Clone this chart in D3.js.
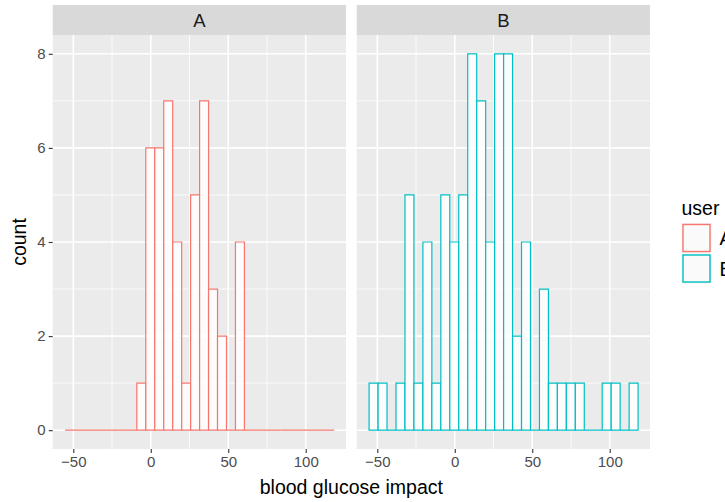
<!DOCTYPE html>
<html lang="en">
  <head>
    <meta charset="utf-8">
    <title>blood glucose impact</title>
    <script src="https://d3js.org/d3.v7.min.js"></script>
    <style>
      body { margin: 0; background: #fff; }
      svg text { font-family: "Liberation Sans", Arial, sans-serif; }
    </style>
  </head>
  <body>
    <div id="main"></div>
    <script>
      // Data (30 bins)
      const users = ['A', 'B'];
      const colors = ['#F8766D', '#00BFC4'];
      const binStart = -55.3;
      const binWidth = 5.787;
      const countsA = [0, 0, 0, 0, 0, 0, 0, 0, 1, 6, 6, 7, 4, 1, 5, 7, 3, 2, 0, 4, 0, 0, 0, 0, 0, 0, 0, 0, 0, 0];
      const countsB = [1, 1, 0, 1, 5, 1, 4, 1, 5, 4, 5, 8, 7, 4, 8, 8, 2, 4, 0, 3, 1, 1, 1, 1, 0, 0, 1, 1, 0, 1];
      const xTicks = [-50, 0, 50, 100];
      const xMinor = [-25, 25, 75];
      const yTicks = [0, 2, 4, 6, 8];
      const yMinor = [1, 3, 5, 7];

      const W = 725, H = 502;
      const panelTop = 35, panelBottom = 449, stripTop = 5;
      const panels = [{ left: 52.7, right: 346 }, { left: 356.7, right: 650 }];

      const svg = d3.select('#main').append('svg')
        .attr('width', W).attr('height', H);

      const y = d3.scaleLinear().domain([-0.4, 8.4]).range([panelBottom, panelTop]);

      // outline of one bin, drawn as a path so that empty bins still show a line
      function binPath(x, i, d) {
        const p = d3.path();
        const x0 = x(binStart + i * binWidth), x1 = x(binStart + (i + 1) * binWidth);
        p.moveTo(x0, y(0));
        p.lineTo(x0, y(d));
        p.lineTo(x1, y(d));
        p.lineTo(x1, y(0));
        p.closePath();
        return p.toString();
      }

      [countsA, countsB].forEach((counts, p) => {
        const pan = panels[p];
        const x = d3.scaleLinear().domain([-63.3, 126.0]).range([pan.left, pan.right]);
        const g = svg.append('g');

        // panel background + strip
        g.append('rect')
          .attr('x', pan.left).attr('y', panelTop)
          .attr('width', pan.right - pan.left).attr('height', panelBottom - panelTop)
          .attr('fill', '#EBEBEB');
        g.append('rect')
          .attr('x', pan.left).attr('y', stripTop)
          .attr('width', pan.right - pan.left).attr('height', panelTop - stripTop)
          .attr('fill', '#D9D9D9');
        g.append('text')
          .attr('x', (pan.left + pan.right) / 2).attr('y', (stripTop + panelTop) / 2 + 6.5)
          .attr('text-anchor', 'middle').attr('font-size', 18.5).attr('fill', '#1A1A1A')
          .text(users[p]);

        // grid
        g.selectAll('.gxm').data(xMinor).join('line')
          .attr('x1', d => x(d)).attr('x2', d => x(d))
          .attr('y1', panelTop).attr('y2', panelBottom)
          .attr('stroke', '#fff').attr('stroke-width', 0.8);
        g.selectAll('.gym').data(yMinor).join('line')
          .attr('y1', d => y(d)).attr('y2', d => y(d))
          .attr('x1', pan.left).attr('x2', pan.right)
          .attr('stroke', '#fff').attr('stroke-width', 0.8);
        g.selectAll('.gx').data(xTicks).join('line')
          .attr('x1', d => x(d)).attr('x2', d => x(d))
          .attr('y1', panelTop).attr('y2', panelBottom)
          .attr('stroke', '#fff').attr('stroke-width', 1.6);
        g.selectAll('.gy').data(yTicks).join('line')
          .attr('y1', d => y(d)).attr('y2', d => y(d))
          .attr('x1', pan.left).attr('x2', pan.right)
          .attr('stroke', '#fff').attr('stroke-width', 1.6);

        // bars
        g.selectAll('.bar').data(counts).join('path')
          .attr('d', (d, i) => binPath(x, i, d))
          .attr('fill', '#FFFFFF').attr('fill-opacity', 0.85)
          .attr('stroke', colors[p]).attr('stroke-width', 1.2)
          .attr('stroke-linejoin', 'miter');

        // x axis
        const xa = svg.append('g')
          .attr('transform', `translate(0,${panelBottom})`)
          .call(d3.axisBottom(x).tickValues(xTicks).tickSize(4).tickPadding(3).tickFormat(d3.format('d')));
        xa.select('.domain').remove();
        xa.selectAll('line').attr('stroke', '#333').attr('stroke-width', 1.1);
        xa.selectAll('text').attr('font-size', 15).attr('fill', '#4D4D4D')
          .attr('font-family', '"Liberation Sans", Arial, sans-serif');
      });

      // y axis
      const ya = svg.append('g')
        .attr('transform', `translate(${panels[0].left},0)`)
        .call(d3.axisLeft(y).tickValues(yTicks).tickSize(4).tickPadding(3));
      ya.select('.domain').remove();
      ya.selectAll('line').attr('stroke', '#333').attr('stroke-width', 1.1);
      ya.selectAll('text').attr('font-size', 15).attr('fill', '#4D4D4D')
        .attr('font-family', '"Liberation Sans", Arial, sans-serif');

      // axis titles
      svg.append('text')
        .attr('x', (panels[0].left + panels[1].right) / 2).attr('y', 494)
        .attr('text-anchor', 'middle').attr('font-size', 19.5).attr('fill', '#000')
        .text('blood glucose impact');
      svg.append('text')
        .attr('transform', `translate(25.5,${(panelTop + panelBottom) / 2}) rotate(-90)`)
        .attr('text-anchor', 'middle').attr('font-size', 19.5).attr('fill', '#000')
        .text('count');

      // legend
      const lg = svg.append('g').attr('transform', 'translate(681.5,0)');
      lg.append('text').attr('x', 0).attr('y', 215).attr('font-size', 19.5).attr('fill', '#000').text('user');
      users.forEach((u, i) => {
        const top = 223 + i * 30.5;
        lg.append('rect').attr('x', 0).attr('y', top).attr('width', 30).attr('height', 30).attr('fill', '#F2F2F2');
        lg.append('rect').attr('x', 1.5).attr('y', top + 1.5)
          .attr('width', 27).attr('height', 27)
          .attr('fill', '#FAFAFA').attr('stroke', colors[i]).attr('stroke-width', 1.4);
        lg.append('text').attr('x', 38).attr('y', top + 22).attr('font-size', 19.5).attr('fill', '#000').text(u);
      });
    </script>
  </body>
</html>
